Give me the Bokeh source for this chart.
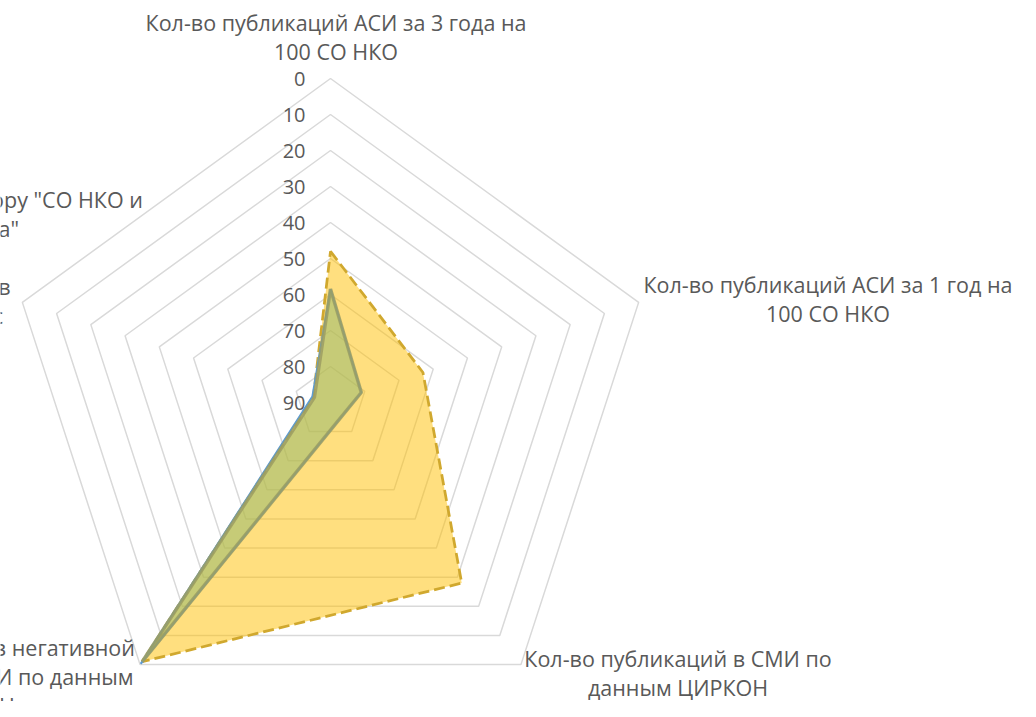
import numpy as np
from bokeh.plotting import figure
from bokeh.models import Range1d
from bokeh.embed import file_html
from bokeh.resources import INLINE
from bokeh.core.properties import value

# ---------------- data ----------------
categories = [
    "Кол-во публикаций АСИ за 3 года на\n100 СО НКО",
    "Кол-во публикаций АСИ за 1 год на\n100 СО НКО",
    "Кол-во публикаций в СМИ по\nданным ЦИРКОН",
    "Доля публикаций в негативной\nтональности в СМИ по данным\nЦИРКОН",
    "Место региона по фактору \"СО НКО и\nмедиа: схема\"\n(из\n85 регионов\nРФ) индекс",
]
series_gold = [48, 63, 28, 1, 85]
series_green = [58.5, 81, 85, 1, 85.3]
series_blue = [58.5, 81, 85, 0.3, 84.7]
tick_values = [0, 10, 20, 30, 40, 50, 60, 70, 80, 90]

# ---------------- layout ----------------
W, H = 1020, 701
CX, CY, R = 330.0, 402.0, 324.0
AX_OUTER, AX_CENTER = 0.0, 90.0
FONT = value("Open Sans")
TXT = "#595959"

def to_xy(vals):
    vals = np.asarray(vals, dtype=float)
    r = (AX_CENTER - vals) / (AX_CENTER - AX_OUTER) * R
    th = np.deg2rad(np.arange(len(vals)) * 360.0 / len(vals))
    return CX + r * np.sin(th), CY - r * np.cos(th)

p = figure(width=W, height=H, x_range=Range1d(0, W), y_range=Range1d(H, 0),
           output_backend="svg", toolbar_location=None, min_border=0,
           x_axis_type=None, y_axis_type=None)
p.grid.visible = False
p.outline_line_color = None
p.background_fill_color = "white"
p.border_fill_color = "white"

# grid rings
ring_xs, ring_ys = [], []
for t in tick_values[:-1]:
    xs, ys = to_xy([t] * len(categories))
    ring_xs.append(list(xs))
    ring_ys.append(list(ys))
p.patches(ring_xs, ring_ys, fill_color=None, line_color="#D9D9D9", line_width=1.5)

# gold series
gx, gy = to_xy(series_gold)
p.patch(list(gx), list(gy), fill_color="#FFC000", fill_alpha=0.5,
        line_color="#D0A82E", line_width=2.75, line_dash="11 5")

# blue series
bx, by = to_xy(series_blue)
p.line(list(bx) + [bx[0]], list(by) + [by[0]], line_color="#5B9BD5", line_width=2)

# green series
nx, ny = to_xy(series_green)
p.patch(list(nx), list(ny), fill_color="#8DB870", fill_alpha=0.5,
        line_color="#9C9E62", line_alpha=0.85, line_width=3.5)

# tick labels
ty = [CY - (AX_CENTER - t) / (AX_CENTER - AX_OUTER) * R for t in tick_values]
p.text(x=[305] * len(tick_values), y=ty, text=[str(t) for t in tick_values],
       text_align="right", text_baseline="middle", text_font=FONT,
       text_font_size="20px", text_color=TXT)

# category labels
lab_x = [335.5, 827.5, 677.5, -31, -55]
lab_y = [36, 298, 672, 676, 256.5]
p.text(x=lab_x, y=lab_y, text=categories, text_align="center", text_baseline="middle",
       text_font=FONT, text_font_size="21.5px", text_color=TXT, text_line_height=1.0)

open("out.html", "w").write(file_html(p, INLINE))
